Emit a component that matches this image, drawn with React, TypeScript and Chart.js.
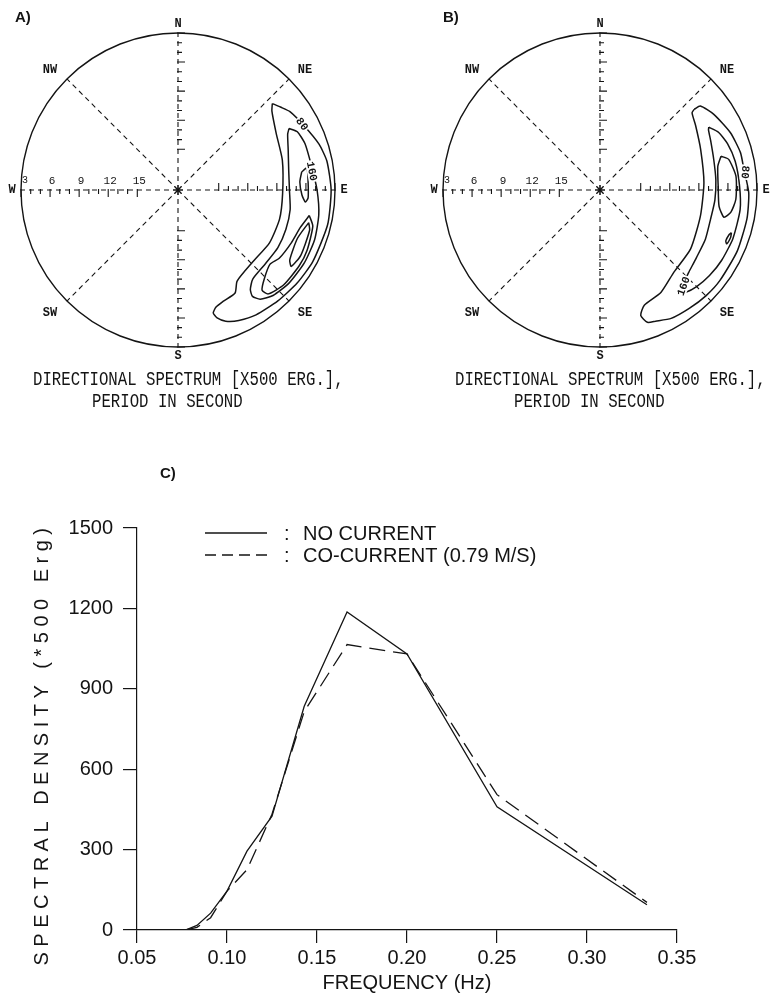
import React, { useEffect, useRef } from "react";
import { Chart, registerables } from "chart.js";

Chart.register(...registerables);

// ---------------- Panel C : spectral density ----------------
const frequencies = [0.05, 0.0769, 0.0833, 0.0909, 0.1, 0.1111, 0.125, 0.1429, 0.1667, 0.2, 0.25, 0.3333];
const noCurrent = [0, 0, 17, 63, 145, 294, 425, 835, 1187, 1030, 460, 94];
const coCurrent = [0, 0, 10, 46, 145, 225, 432, 815, 1065, 1030, 505, 103];
const freqTicks = [0.05, 0.1, 0.15, 0.2, 0.25, 0.3, 0.35];
const densityTicks = [0, 300, 600, 900, 1200, 1500];
const seriesLabels = ["NO CURRENT", "CO-CURRENT (0.79 M/S)"];

// ---------------- Panels A / B : directional spectra ----------------
const PERIOD_EDGE = 3; // period (s) at the rim of the rose
const PERIOD_CENTER = 19.2; // period (s) at the centre of the rose
const periodTicks = [3, 4, 5, 6, 7, 8, 9, 10, 11, 12, 13, 14, 15];
const periodLabels = [3, 6, 9, 12, 15];
const compassNames = ["N", "NE", "E", "SE", "S", "SW", "W", "NW"];
const compassDirs = [0, 45, 90, 135, 180, 225, 270, 315];

// contours: [direction (deg clockwise from N), period (s)]
const contourA80 = [
  [47.5, 6.0], [51, 5.6], [55, 5.1], [63, 4.6], [72, 3.9], [79, 3.55], [90, 3.4], [103, 3.35],
  [118, 3.45], [128, 3.6], [138, 3.8], [148, 4.0], [155, 4.35], [160, 4.8], [163, 5.4], [164, 6.0],
  [162, 6.5], [158, 6.8], [151, 7.05], [147, 8.0], [134, 8.5], [120, 8.3], [106, 8.3], [92, 8.4],
  [74, 8.0], [60, 7.5], [50, 6.55],
];
const contourA160 = [
  [61, 6.1], [64, 5.5], [70, 5.25], [80, 5.2], [90, 4.85], [100, 4.45], [110, 4.2], [120, 4.15],
  [130, 4.25], [138, 4.55], [143, 5.1], [145, 5.8], [144, 6.5], [140, 7.2], [130, 7.4], [120, 7.3],
  [110, 7.35], [100, 7.45], [90, 7.7], [80, 7.6], [70, 7.1], [63, 6.5],
];
const contourA240a = [
  [81.7, 6.3], [80.3, 5.7], [86.5, 5.75], [93.5, 5.75], [95.4, 6.0], [92.3, 6.4], [86.2, 6.6],
];
const contourA240b = [
  [101, 5.4], [105, 4.8], [115, 4.5], [122, 4.45], [132, 4.55], [139, 5.0], [140, 5.7], [136, 6.4],
  [129, 7.0], [124, 6.6], [115, 6.3], [107, 6.0],
];
const contourA320 = [
  [104, 5.3], [107, 5.0], [118, 4.85], [124, 5.1], [122, 5.6], [112, 5.9],
];

const contourB80 = [
  [49.4, 6.4], [50.1, 5.7], [56.4, 5.1], [66.3, 4.5], [75.1, 4.2], [81.8, 4.2], [91, 3.85], [101, 3.75],
  [114, 3.7], [127, 3.7], [135, 3.75], [143, 3.9], [151, 4.05], [157, 4.5], [160.3, 4.7], [162, 5.6],
  [159, 6.45], [149.3, 6.9], [138, 7.8], [123, 8.05], [104.4, 8.5], [86, 8.45], [68, 8.0], [56, 7.3],
  [50, 6.8],
];
const contourB160 = [
  [60, 6.24], [64, 5.6], [70, 5.2], [78, 4.94], [88, 4.8], [98, 4.6], [110, 4.6], [120, 4.7],
  [128, 4.86], [135, 5.1], [140, 5.43], [142, 5.9], [140, 6.24], [137, 6.4], [133, 6.7], [125, 7.05],
  [115, 7.2], [105, 7.4], [95, 7.3], [85, 7.2], [75, 7.05], [66, 6.7], [61, 6.4],
];
const contourB240a = [
  [74.4, 6.24], [76.6, 5.55], [84.2, 5.1], [93.9, 5.15], [99.6, 5.5], [102.4, 6.1], [97.8, 6.8],
  [88.2, 7.0], [78.6, 6.8],
];
const contourB240b = [[108, 4.94], [110, 4.86], [113, 5.0], [112, 5.2], [109, 5.1]];

// contour labels: text, direction, period, rotation (deg)
const labelsA = [
  { text: "80", dir: 62, period: 4.7, rot: 55 },
  { text: "160", dir: 82, period: 5.25, rot: 78 },
];
const labelsB = [
  { text: "80", dir: 83, period: 4.1, rot: 95 },
  { text: "160", dir: 139, period: 6.05, rot: -70 },
];

const captionLine1 = "DIRECTIONAL SPECTRUM [X500 ERG.],";
const captionLine2 = "PERIOD IN SECOND";

const INK = "#141414";
const MONO = "'Liberation Mono', 'DejaVu Sans Mono', monospace";
const SANS = "'Liberation Sans', Arial, sans-serif";

const RPX = 157; // pixel radius of the rose
const CY = 190;

function radiusOf(period: number) {
  return (PERIOD_CENTER - period) / (PERIOD_CENTER - PERIOD_EDGE);
}
function toPoint(dir: number, period: number) {
  const r = radiusOf(period);
  const a = (dir * Math.PI) / 180;
  return { x: r * Math.sin(a), y: r * Math.cos(a) };
}
function closed(c: number[][]) {
  return [...c, c[0]].map(([d, p]) => toPoint(d, p));
}

const polarPlugin = {
  id: "polarFrame",
  beforeDatasetsDraw(chart: any) {
    const { ctx } = chart;
    const sx = chart.scales.x;
    const sy = chart.scales.y;
    const cx = sx.getPixelForValue(0);
    const cy = sy.getPixelForValue(0);
    const R = sx.getPixelForValue(1) - cx;
    ctx.save();
    ctx.strokeStyle = INK;
    ctx.lineWidth = 1.4;
    ctx.beginPath();
    ctx.arc(cx, cy, R, 0, Math.PI * 2);
    ctx.stroke();
    // dashed compass lines
    ctx.lineWidth = 1.1;
    ctx.setLineDash([5, 4]);
    for (const deg of compassDirs) {
      const a = (deg * Math.PI) / 180;
      ctx.beginPath();
      ctx.moveTo(cx, cy);
      ctx.lineTo(cx + R * Math.sin(a), cy - R * Math.cos(a));
      ctx.stroke();
    }
    ctx.setLineDash([]);
    // period ticks
    ctx.lineWidth = 1.1;
    for (const T of periodTicks) {
      const r = radiusOf(T) * R;
      const L = periodLabels.includes(T) ? 7 : 4;
      ctx.beginPath();
      ctx.moveTo(cx - 1, cy - r);
      ctx.lineTo(cx + L, cy - r);
      ctx.moveTo(cx - 1, cy + r);
      ctx.lineTo(cx + L, cy + r);
      ctx.moveTo(cx + r, cy + 1);
      ctx.lineTo(cx + r, cy - L);
      ctx.moveTo(cx - r, cy - 1);
      ctx.lineTo(cx - r, cy + L);
      ctx.stroke();
    }
    // centre star
    ctx.beginPath();
    for (let k = 0; k < 4; k++) {
      const a = (k * Math.PI) / 4;
      ctx.moveTo(cx - 5 * Math.cos(a), cy - 5 * Math.sin(a));
      ctx.lineTo(cx + 5 * Math.cos(a), cy + 5 * Math.sin(a));
    }
    ctx.stroke();
    // period labels on the west arm
    ctx.fillStyle = INK;
    ctx.font = `11px ${MONO}`;
    ctx.textBaseline = "middle";
    ctx.textAlign = "center";
    for (const T of periodLabels) {
      const r = radiusOf(T) * R;
      if (T === PERIOD_EDGE) {
        ctx.font = `10px ${MONO}`;
        ctx.fillText(String(T), cx - r + 4, cy - 10);
        ctx.font = `11px ${MONO}`;
      } else {
        ctx.fillText(String(T), cx - r + 2, cy - 9);
      }
    }
    ctx.restore();
  },
  afterDatasetsDraw(chart: any, _args: any, opts: any) {
    const { ctx } = chart;
    const sx = chart.scales.x;
    const sy = chart.scales.y;
    const cx = sx.getPixelForValue(0);
    const cy = sy.getPixelForValue(0);
    ctx.save();
    ctx.fillStyle = INK;
    // contour labels
    ctx.font = `bold 11px ${MONO}`;
    ctx.textAlign = "center";
    ctx.textBaseline = "middle";
    for (const lb of opts.labels || []) {
      const p = toPoint(lb.dir, lb.period);
      const x = sx.getPixelForValue(p.x);
      const y = sy.getPixelForValue(p.y);
      ctx.save();
      ctx.translate(x, y);
      ctx.rotate((lb.rot * Math.PI) / 180);
      const w = ctx.measureText(lb.text).width;
      ctx.fillStyle = "#fff";
      ctx.fillRect(-w / 2 - 1, -5, w + 2, 10);
      ctx.fillStyle = INK;
      ctx.fillText(lb.text, 0, 0.5);
      ctx.restore();
    }
    // compass names
    ctx.font = `bold 12px ${MONO}`;
    compassNames.forEach((name, i) => {
      const deg = compassDirs[i];
      let dx = 0;
      let dy = 0;
      if (deg % 90 === 0) {
        const a = (deg * Math.PI) / 180;
        dx = 166 * Math.sin(a);
        dy = -166 * Math.cos(a);
      } else {
        dx = deg < 180 ? 127 : -128;
        dy = deg === 45 || deg === 315 ? -120 : 123;
      }
      ctx.fillText(name, cx + dx, cy + dy);
    });
    // panel letter
    ctx.font = `bold 15px ${SANS}`;
    ctx.textAlign = "left";
    ctx.fillText(opts.letter, opts.letterX, 18);
    // caption
    ctx.font = `15.7px ${MONO}`;
    ctx.textAlign = "left";
    ctx.save();
    ctx.translate(cx - 145, 380);
    ctx.scale(1, 1.25);
    ctx.fillText(captionLine1, 0, 0);
    ctx.restore();
    ctx.save();
    ctx.translate(cx - 86, 402);
    ctx.scale(1, 1.25);
    ctx.fillText(captionLine2, 0, 0);
    ctx.restore();
    ctx.restore();
  },
};

function PolarPanel(props: {
  left: number;
  width: number;
  cxLocal: number;
  letter: string;
  letterX: number;
  contours: number[][][];
  labels: any[];
}) {
  const ref = useRef<HTMLCanvasElement | null>(null);
  const H = 420;
  useEffect(() => {
    if (!ref.current) return;
    const chart = new Chart(ref.current, {
      type: "scatter",
      data: {
        datasets: props.contours.map((c) => ({
          data: closed(c),
          showLine: true,
          borderColor: INK,
          borderWidth: 1.5,
          pointRadius: 0,
          tension: 0.2,
          fill: false,
        })),
      },
      options: {
        animation: false,
        responsive: false,
        events: [],
        layout: { padding: 0, autoPadding: false },
        plugins: {
          legend: { display: false },
          tooltip: { enabled: false },
          polarFrame: { letter: props.letter, letterX: props.letterX, labels: props.labels },
        } as any,
        scales: {
          x: { type: "linear", display: false, min: -props.cxLocal / RPX, max: (props.width - props.cxLocal) / RPX },
          y: { type: "linear", display: false, min: -(H - CY) / RPX, max: CY / RPX },
        },
      },
      plugins: [polarPlugin as any],
    });
    return () => chart.destroy();
  }, []);
  return (
    <canvas
      ref={ref}
      width={props.width}
      height={H}
      style={{ position: "absolute", left: props.left, top: 0, width: props.width, height: H }}
    />
  );
}

const cPlugin = {
  id: "cDecor",
  afterDraw(chart: any) {
    const { ctx } = chart;
    ctx.save();
    ctx.fillStyle = INK;
    ctx.strokeStyle = INK;
    // panel letter
    ctx.font = `bold 15px ${SANS}`;
    ctx.textBaseline = "middle";
    ctx.textAlign = "left";
    ctx.fillText("C)", 160, 54);
    // legend
    ctx.lineWidth = 1.3;
    ctx.beginPath();
    ctx.moveTo(205, 113);
    ctx.lineTo(267, 113);
    ctx.stroke();
    ctx.setLineDash([11, 6]);
    ctx.beginPath();
    ctx.moveTo(205, 135);
    ctx.lineTo(267, 135);
    ctx.stroke();
    ctx.setLineDash([]);
    ctx.font = `20px ${SANS}`;
    ctx.fillText(":", 284, 114);
    ctx.fillText(":", 284, 136);
    ctx.fillText(seriesLabels[0], 303, 114);
    ctx.fillText(seriesLabels[1], 303, 136);
    // y-axis title, letter-spaced
    ctx.save();
    ctx.translate(42, 324);
    ctx.rotate(-Math.PI / 2);
    (ctx as any).letterSpacing = "5.5px";
    ctx.textAlign = "center";
    ctx.font = `20px ${SANS}`;
    ctx.fillText("SPECTRAL DENSITY (*500 Erg)", 0, 0);
    ctx.restore();
    ctx.restore();
  },
};

function SpectrumPanel() {
  const ref = useRef<HTMLCanvasElement | null>(null);
  useEffect(() => {
    if (!ref.current) return;
    const tickFont = { family: SANS, size: 20 };
    const chart = new Chart(ref.current, {
      type: "line",
      data: {
        datasets: [
          {
            label: seriesLabels[0],
            data: frequencies.map((f, i) => ({ x: f, y: noCurrent[i] })),
            borderColor: INK,
            borderWidth: 1.3,
            pointRadius: 0,
            tension: 0,
            fill: false,
          },
          {
            label: seriesLabels[1],
            data: frequencies.map((f, i) => ({ x: f, y: coCurrent[i] })),
            borderColor: INK,
            borderWidth: 1.3,
            borderDash: [16, 8],
            pointRadius: 0,
            tension: 0,
            fill: false,
          },
        ],
      },
      options: {
        animation: false,
        responsive: false,
        events: [],
        layout: { padding: { left: 0, right: 100, top: 108, bottom: 0 }, autoPadding: false },
        plugins: { legend: { display: false }, tooltip: { enabled: false } },
        scales: {
          x: {
            type: "linear",
            min: 0.05,
            max: 0.35,
            afterBuildTicks: (s: any) => {
              s.ticks = freqTicks.map((v) => ({ value: v }));
            },
            afterFit: (s: any) => {
              s.height = 65;
            },
            ticks: {
              callback: (v: any) => Number(v).toFixed(2),
              font: tickFont,
              color: INK,
              padding: 3,
              maxRotation: 0,
              autoSkip: false,
            },
            grid: { drawOnChartArea: false, drawTicks: true, tickLength: 13, color: INK, lineWidth: 1.2 },
            border: { color: INK, width: 1.2 },
            title: { display: true, text: "FREQUENCY (Hz)", font: tickFont, color: INK, padding: 0 },
          },
          y: {
            type: "linear",
            min: 0,
            max: 1500,
            afterBuildTicks: (s: any) => {
              s.ticks = densityTicks.map((v) => ({ value: v }));
            },
            afterFit: (s: any) => {
              s.width = 137;
            },
            ticks: {
              callback: (v: any) => String(Math.round(Number(v))),
              font: tickFont,
              color: INK,
              padding: 10,
              autoSkip: false,
            },
            grid: { drawOnChartArea: false, drawTicks: true, tickLength: 14, color: INK, lineWidth: 1.2 },
            border: { color: INK, width: 1.2 },
          },
        },
      },
      plugins: [cPlugin as any],
    });
    return () => chart.destroy();
  }, []);
  return (
    <canvas
      ref={ref}
      width={777}
      height={575}
      style={{ position: "absolute", left: 0, top: 420, width: 777, height: 575 }}
    />
  );
}

export default function App() {
  return (
    <div style={{ position: "absolute", left: 0, top: 0, width: 777, height: 995, background: "#fff", overflow: "hidden" }}>
      <PolarPanel
        left={0}
        width={388}
        cxLocal={178}
        letter="A)"
        letterX={15}
        contours={[contourA80, contourA160, contourA240a, contourA240b, contourA320]}
        labels={labelsA}
      />
      <PolarPanel
        left={388}
        width={389}
        cxLocal={212}
        letter="B)"
        letterX={55}
        contours={[contourB80, contourB160, contourB240a, contourB240b]}
        labels={labelsB}
      />
      <SpectrumPanel />
    </div>
  );
}
